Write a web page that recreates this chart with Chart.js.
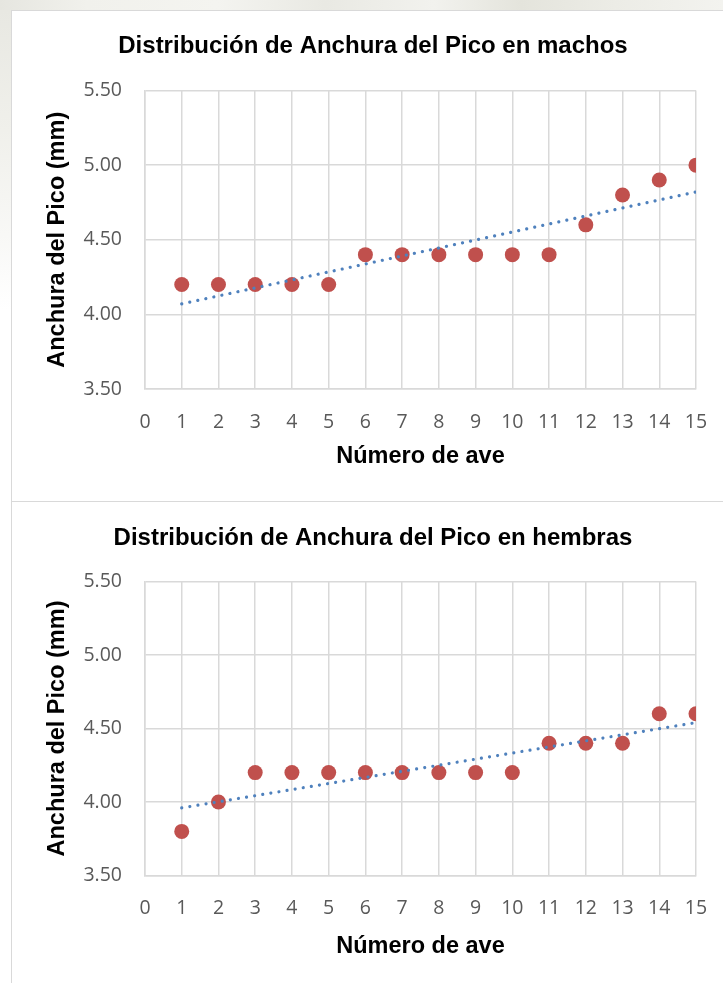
<!DOCTYPE html>
<html>
<head>
<meta charset="utf-8">
<script src="https://cdn.jsdelivr.net/npm/chart.js@4.4.1/dist/chart.umd.min.js"></script>
<style>
  html, body { margin: 0; padding: 0; width: 723px; height: 983px; overflow: hidden; background: #fff; }
  #strip-top { position: absolute; left: 0; top: 0; width: 723px; height: 10px;
    background: linear-gradient(90deg, #e6e6e0 0%, #f1f1ec 12%, #f4f4f0 30%, #e9e9e3 45%, #f2f2ee 60%, #e4e4dc 72%, #ecece6 85%, #f3f3ef 100%); }
  #strip-left { position: absolute; left: 0; top: 10px; width: 11px; height: 300px;
    background: linear-gradient(180deg, #e8e8e2 0%, #f0f0eb 40%, #f8f8f6 75%, #ffffff 100%); }
  .panel { position: absolute; left: 11px; border-left: 1.5px solid #d9d9d9; overflow: hidden; background: #fff; }
  #p1 { top: 10px; height: 491px; width: 760px; border-top: 1.5px solid #d9d9d9; }
  #p2 { top: 501px; height: 482px; width: 760px; border-top: 1.5px solid #d9d9d9; }
  canvas { display: block; }
</style>
</head>
<body>
<div id="strip-top"></div>
<div id="strip-left"></div>
<div class="panel" id="p1"><canvas id="c1" width="724" height="491"></canvas></div>
<div class="panel" id="p2"><canvas id="c2" width="724" height="481"></canvas></div>
<script>
// Bird numbers (x) and beak widths in mm (y)
const birdNumbers = [1, 2, 3, 4, 5, 6, 7, 8, 9, 10, 11, 12, 13, 14, 15];
const malesWidth   = [4.2, 4.2, 4.2, 4.2, 4.2, 4.4, 4.4, 4.4, 4.4, 4.4, 4.4, 4.6, 4.8, 4.9, 5.0];
const femalesWidth = [3.8, 4.0, 4.2, 4.2, 4.2, 4.2, 4.2, 4.2, 4.2, 4.2, 4.4, 4.4, 4.4, 4.6, 4.6];

// Linear trend line end points (bird 1 and bird 15)
const trendX       = [1, 15];
const malesTrend   = [4.07, 4.82];
const femalesTrend = [3.96, 4.54];

const yTicks = [3.5, 4.0, 4.5, 5.0, 5.5];

const titles = [
  'Distribución de Anchura del Pico en machos',
  'Distribución de Anchura del Pico en hembras'
];
const xTitle = 'Número de ave';
const yTitle = 'Anchura del Pico (mm)';

const GRID = '#d9d9d9';
const TICK_FONT = { family: '"Open Sans", sans-serif', size: 19.5 };
const BOLD_FAMILY = '"Liberation Sans", Arial, sans-serif';
const AXIS_TITLE_FONT = { family: BOLD_FAMILY, size: 23.5, weight: 'bold', lineHeight: 1.2 };

function makeChart(canvasId, title, values, trend, geo) {
  const points = birdNumbers.map((x, i) => ({ x: x, y: values[i] }));
  const trendPts = trendX.map((x, i) => ({ x: x, y: trend[i] }));
  return new Chart(document.getElementById(canvasId), {
    type: 'scatter',
    data: {
      datasets: [
        {
          type: 'line',
          label: 'Tendencia',
          data: trendPts,
          order: 0,
          borderColor: '#4f81bd',
          borderWidth: 3.2,
          borderCapStyle: 'round',
          borderDash: [0.01, 8.2],
          pointRadius: 0,
          fill: false
        },
        {
          label: 'Anchura',
          data: points,
          order: 1,
          backgroundColor: '#c0504d',
          borderWidth: 0,
          pointRadius: 7.5,
          pointHoverRadius: 7.5
        }
      ]
    },
    options: {
      responsive: false,
      animation: false,
      layout: { padding: { left: 38, right: 40, top: 0, bottom: 0 } },
      plugins: {
        legend: { display: false },
        tooltip: { enabled: false },
        title: {
          display: true,
          text: title,
          color: '#000',
          font: { family: BOLD_FAMILY, size: 24, weight: 'bold', lineHeight: 1.2 },
          padding: { top: geo.titleTop, bottom: geo.titleBottom }
        }
      },
      scales: {
        x: {
          type: 'linear',
          min: 0, max: 15,
          ticks: { stepSize: 1, color: '#595959', font: TICK_FONT, padding: geo.xTickPad, autoSkip: false, maxRotation: 0 },
          grid: { color: GRID, lineWidth: 1.5, drawTicks: false },
          border: { color: GRID, width: 1.5 },
          title: { display: true, text: xTitle, color: '#000', font: AXIS_TITLE_FONT, padding: { top: 0, bottom: geo.xTitlePad } },
          afterFit: s => { s.height = geo.xHeight; }
        },
        y: {
          type: 'linear',
          min: 3.5, max: 5.5,
          afterBuildTicks: s => { s.ticks = yTicks.map(v => ({ value: v })); },
          ticks: { color: '#595959', font: TICK_FONT, padding: 23, callback: v => Number(v).toFixed(2) },
          grid: { color: GRID, lineWidth: 1.5, drawTicks: false },
          border: { color: GRID, width: 1.5 },
          title: { display: true, text: yTitle, color: '#000', font: AXIS_TITLE_FONT, padding: { top: -6.6, bottom: 0 } },
          afterFit: s => { s.width = 95; }
        }
      }
    }
  });
}

makeChart('c1', titles[0], malesWidth, malesTrend,
  { titleTop: 20.5, titleBottom: 30.2, xTickPad: 21.5, xTitlePad: 31.5, xHeight: 113 });
makeChart('c2', titles[1], femalesWidth, femalesTrend,
  { titleTop: 22, titleBottom: 28.7, xTickPad: 21.5, xTitlePad: 22.5, xHeight: 107.5 });
</script>
</body>
</html>
